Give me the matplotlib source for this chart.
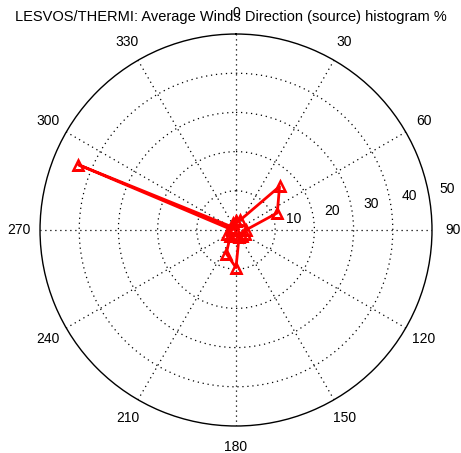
import numpy as np
import matplotlib.pyplot as plt

plt.rcParams['font.family'] = ['Liberation Sans', 'DejaVu Sans']

# wind direction bins (deg, source) and frequency (%)
directions = [0, 22.5, 45, 67.5, 90, 112.5, 135, 157.5,
              180, 202.5, 225, 247.5, 270, 292.5, 315, 337.5]
freq = [2.4, 2.7, 15.7, 11.4, 2.5, 2.5, 2.0, 2.0,
        9.6, 6.5, 2.0, 2.5, 0.9, 43.5, 0.9, 2.0]

ring_values = [10, 20, 30, 40, 50]
angle_ticks = list(range(0, 360, 30))
title = "LESVOS/THERMI: Average Winds Direction (source) histogram %"

fig = plt.figure(figsize=(4.61, 4.53), dpi=100)
fig.patch.set_facecolor('white')
ax = fig.add_axes([0.0868, 0.0596, 0.8503, 0.8653], projection='polar')
ax.set_theta_zero_location('N')
ax.set_theta_direction(-1)
ax.set_ylim(0, 50)

ax.set_thetagrids(angle_ticks, [''] * len(angle_ticks))
ax.set_rgrids(ring_values[:-1], [''] * 4)
ax.grid(True, color='black', linestyle=(0, (1, 3)), linewidth=0.9)
ax.spines['polar'].set_linewidth(1.0)
ax.spines['polar'].set_color('black')

# angle labels centred at 1.1 x outer radius, like MATLAB polar
for a in angle_ticks:
    ax.text(np.deg2rad(a), 55.4, str(a), fontsize=10,
            ha='center', va='center', clip_on=False)

# radial labels
for r in ring_values:
    ax.text(np.deg2rad(79), r + 5, str(r), fontsize=10,
            ha='center', va='center', clip_on=False)

th = np.deg2rad(np.append(directions, directions[0]))
rr = np.append(freq, freq[0])
ax.plot(th, rr, color='red', linewidth=2, marker='^', markersize=7,
        markerfacecolor='none', markeredgewidth=1.8)

fig.text(231 / 461, 1 - 17 / 453, title, fontsize=10.5, ha='center', va='center')

fig.savefig('out.png', dpi=100)
